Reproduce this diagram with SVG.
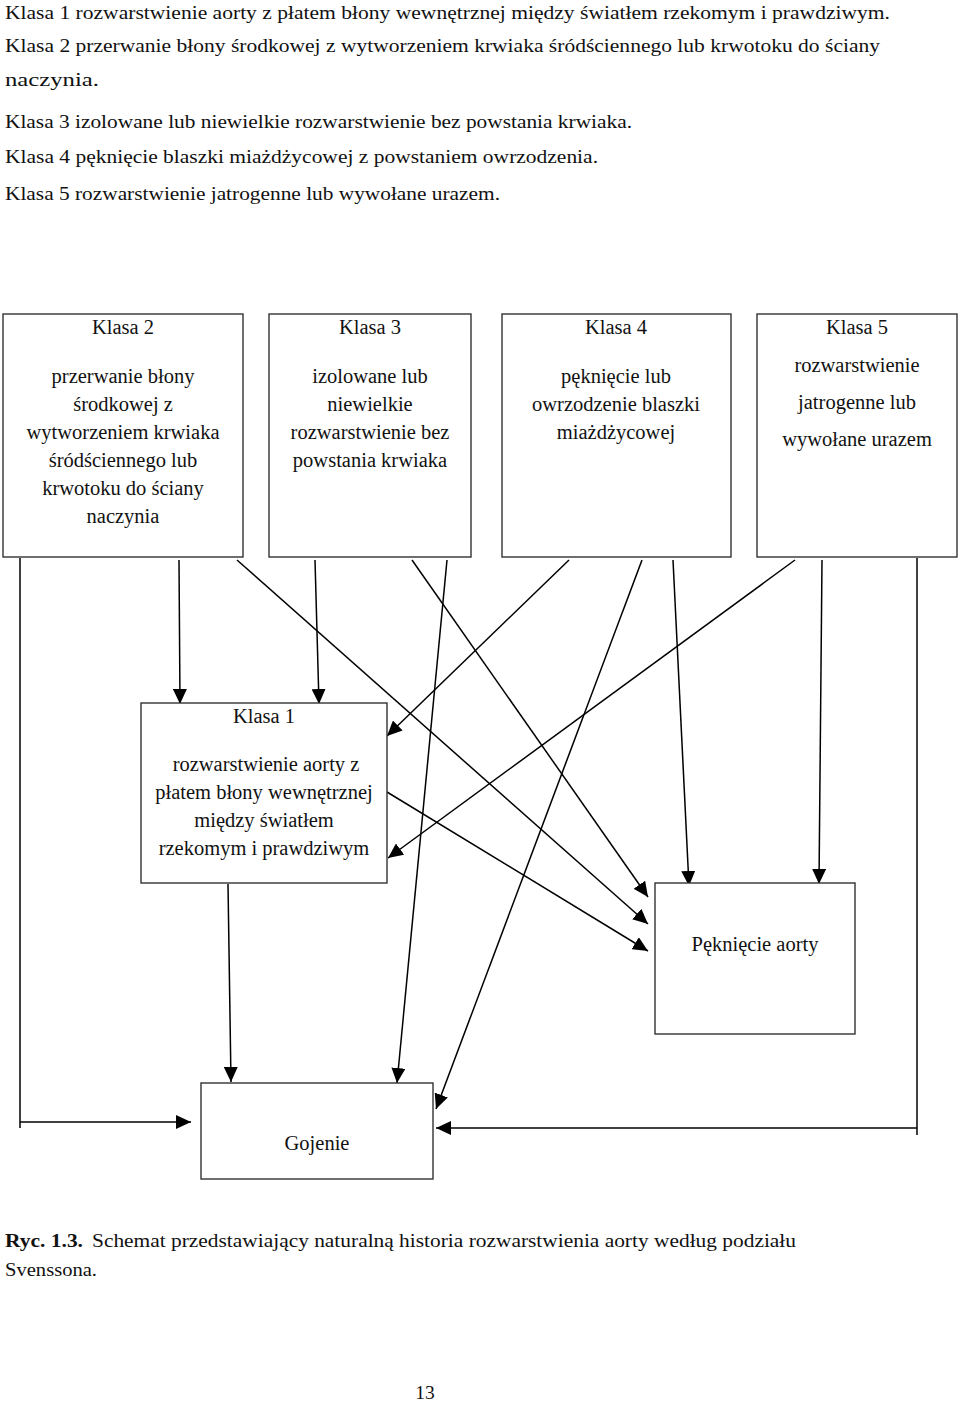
<svg xmlns="http://www.w3.org/2000/svg" width="960" height="1401" viewBox="0 0 960 1401">
<defs>
<marker id="ah" markerWidth="15" markerHeight="14" refX="15" refY="7" orient="auto" markerUnits="userSpaceOnUse">
<path d="M0,0 L15,7 L0,14 z" fill="#000"/>
</marker>
<style>
text{font-family:"Liberation Serif","Times New Roman",serif;fill:#111;}
.hd{font-size:19.5px;}
.bx{font-size:20.5px;text-anchor:middle;}
.box{fill:#fff;stroke:#333;stroke-width:1.4;}
.c{stroke:#000;stroke-width:1.5;fill:none;}
.a{marker-end:url(#ah);}
</style>
</defs>
<rect width="960" height="1401" fill="#fff"/>
<g id="intro">
<text class="hd" x="5" y="19" textLength="885" lengthAdjust="spacingAndGlyphs">Klasa 1 rozwarstwienie aorty z płatem błony wewnętrznej między światłem rzekomym i prawdziwym.</text>
<text class="hd" x="5" y="52" textLength="875" lengthAdjust="spacingAndGlyphs">Klasa 2 przerwanie błony środkowej z wytworzeniem krwiaka śródściennego lub krwotoku do ściany</text>
<text class="hd" x="5" y="86" textLength="94" lengthAdjust="spacingAndGlyphs">naczynia.</text>
<text class="hd" x="5" y="128" textLength="627" lengthAdjust="spacingAndGlyphs">Klasa 3 izolowane lub niewielkie rozwarstwienie bez powstania krwiaka.</text>
<text class="hd" x="5" y="163" textLength="593" lengthAdjust="spacingAndGlyphs">Klasa 4 pęknięcie blaszki miażdżycowej z powstaniem owrzodzenia.</text>
<text class="hd" x="5" y="200" textLength="495" lengthAdjust="spacingAndGlyphs">Klasa 5 rozwarstwienie jatrogenne lub wywołane urazem.</text>
</g>
<g id="connectors">
<path class="c" d="M20,558 V1128"/>
<path class="c a" d="M20,1122 H191"/>
<path class="c a" d="M179,560 L180,704"/>
<path class="c a" d="M237,560 L648,924"/>
<path class="c a" d="M315,560 L319,704"/>
<path class="c a" d="M412,560 L648,897"/>
<path class="c a" d="M447,560 L397,1083"/>
<path class="c a" d="M569,560 L387,736"/>
<path class="c a" d="M642,560 L436,1109"/>
<path class="c a" d="M673,560 L689,886"/>
<path class="c a" d="M795,560 L388,858"/>
<path class="c a" d="M822,560 L819,884"/>
<path class="c" d="M917,558 V1135"/>
<path class="c a" d="M917,1128 H436"/>
<path class="c a" d="M387,792 L648,951"/>
<path class="c a" d="M228,884 L231,1082"/>
</g>
<g id="klasa2">
<rect class="box" x="3" y="314" width="240" height="243"/>
<text class="bx" x="123" y="334">Klasa 2</text>
<text class="bx" x="123" y="383">przerwanie błony</text>
<text class="bx" x="123" y="411">środkowej z</text>
<text class="bx" x="123" y="439">wytworzeniem krwiaka</text>
<text class="bx" x="123" y="467">śródściennego lub</text>
<text class="bx" x="123" y="495">krwotoku do ściany</text>
<text class="bx" x="123" y="523">naczynia</text>
</g>
<g id="klasa3">
<rect class="box" x="269" y="314" width="202" height="243"/>
<text class="bx" x="370" y="334">Klasa 3</text>
<text class="bx" x="370" y="383">izolowane lub</text>
<text class="bx" x="370" y="411">niewielkie</text>
<text class="bx" x="370" y="439">rozwarstwienie bez</text>
<text class="bx" x="370" y="467">powstania krwiaka</text>
</g>
<g id="klasa4">
<rect class="box" x="502" y="314" width="229" height="243"/>
<text class="bx" x="616" y="334">Klasa 4</text>
<text class="bx" x="616" y="383">pęknięcie lub</text>
<text class="bx" x="616" y="411">owrzodzenie blaszki</text>
<text class="bx" x="616" y="439">miażdżycowej</text>
</g>
<g id="klasa5">
<rect class="box" x="757" y="314" width="200" height="243"/>
<text class="bx" x="857" y="334">Klasa 5</text>
<text class="bx" x="857" y="372">rozwarstwienie</text>
<text class="bx" x="857" y="409">jatrogenne lub</text>
<text class="bx" x="857" y="446">wywołane urazem</text>
</g>
<g id="klasa1">
<rect class="box" x="141" y="703" width="246" height="180"/>
<text class="bx" x="264" y="723">Klasa 1</text>
<text class="bx" x="266" y="771">rozwarstwienie aorty z</text>
<text class="bx" x="264" y="799">płatem błony wewnętrznej</text>
<text class="bx" x="264" y="827">między światłem</text>
<text class="bx" x="264" y="855">rzekomym i prawdziwym</text>
</g>
<g id="pekniecie">
<rect class="box" x="655" y="883" width="200" height="151"/>
<text class="bx" x="755" y="951">Pęknięcie aorty</text>
</g>
<g id="gojenie">
<rect class="box" x="201" y="1083" width="232" height="96"/>
<text class="bx" x="317" y="1150">Gojenie</text>
</g>
<g id="caption">
<text class="hd" x="5" y="1247" font-weight="bold" textLength="78" lengthAdjust="spacingAndGlyphs">Ryc. 1.3.</text>
<text class="hd" x="92" y="1247" textLength="704" lengthAdjust="spacingAndGlyphs">Schemat przedstawiający naturalną historia rozwarstwienia aorty według podziału</text>
<text class="hd" x="5" y="1276" textLength="92" lengthAdjust="spacingAndGlyphs">Svenssona.</text>
<text class="hd" x="425" y="1399" text-anchor="middle">13</text>
</g>
</svg>
